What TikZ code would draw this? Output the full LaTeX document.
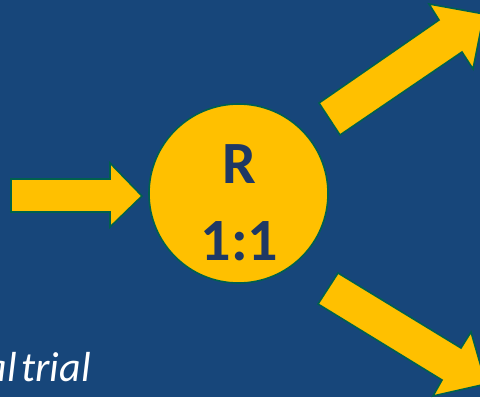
\documentclass[tikz,border=0pt]{standalone}
\usepackage{fontspec}
\setmainfont{Carlito}
\definecolor{bgblue}{RGB}{23,70,122}
\definecolor{gold}{RGB}{255,192,0}
\definecolor{edgegreen}{RGB}{0,97,77}
\definecolor{navytext}{RGB}{31,56,100}
\tikzset{
  blockarrow/.style={fill=gold, draw=edgegreen, line width=1.6pt, line join=miter},
  lbl/.style={font=\fontsize{60}{60}\selectfont\bfseries, text=navytext, anchor=base, inner sep=0pt},
  caption/.style={font=\fontsize{42}{42}\selectfont\itshape, text=white, anchor=base east, inner sep=0pt}
}
\begin{document}
\begin{tikzpicture}[x=1pt,y=-1pt]
\useasboundingbox (0,0) rectangle (480,397);
\clip (0,0) rectangle (480,397);
\fill[bgblue] (0,0) rectangle (480,397);
% left input arrow
\draw[blockarrow] (11,179) -- (110,179) -- (110,163) -- (142,196) -- (110,227) -- (110,212) -- (11,212) -- cycle;
% upper output arrow
\draw[blockarrow] (319,103) -- (439,20) -- (429,4) -- (484,14) -- (473,69) -- (462,52) -- (340,135) -- cycle;
% lower output arrow
\draw[blockarrow] (338,273) -- (461,348) -- (471,332) -- (486,384) -- (433,396) -- (442,380) -- (318,304) -- cycle;
% randomisation circle
\node[circle, minimum size=179pt, inner sep=0pt, fill=gold, draw=edgegreen, line width=1.6pt] (rand) at (238.5,193.5) {};
\node[lbl] (r) at (239,183) {R};
\node[lbl] (ratio) at (239.5,260) {1:1};
\node[caption] (cap) at (91,381) {al\hspace{-5pt} trial};
\end{tikzpicture}
\end{document}
